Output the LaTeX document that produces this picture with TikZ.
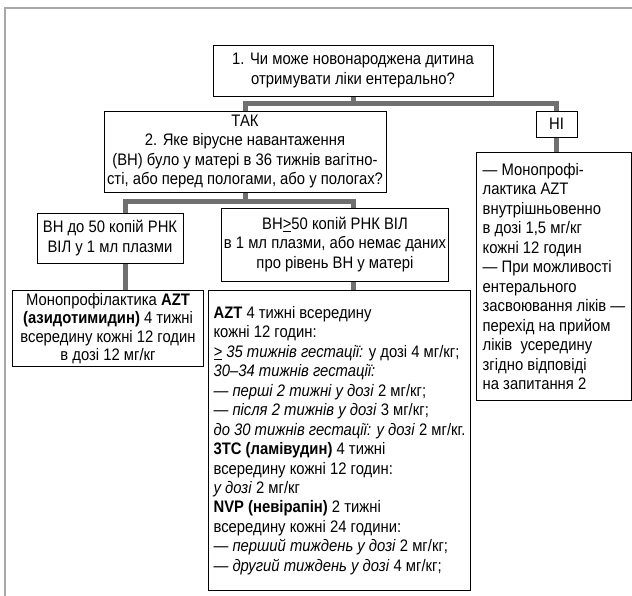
\documentclass[tikz,border=0pt]{standalone}
\usepackage{fontspec}
\setmainfont{Liberation Sans}[FakeStretch=0.89]
\definecolor{linkgray}{HTML}{707070}
\definecolor{framegray}{HTML}{A8A8A8}

\begin{document}
\begin{tikzpicture}[x=0.75pt,y=-0.75pt,
    box/.style={draw,line width=0.75pt,fill=white,inner sep=2pt,
      font=\fontsize{12.5}{14.6}\selectfont},
    link/.style={draw=linkgray,line width=3.75pt}]
      \useasboundingbox (0,0) rectangle (632,596);
      \draw[framegray,line width=1.5pt] (632,8) -- (5,8) -- (5,596);

      \path
      (353,70.5) node[box,minimum width=210pt,minimum height=38.25pt,align=center](q1)
        {1. Чи може новонароджена дитина\\отримувати ліки ентерально?}
      (245,151.5) node[box,minimum width=211.5pt,minimum height=60.75pt,align=center](tak)
        {ТАК\\2. Яке вірусне навантаження\\(ВН) було у матері в 36 тижнів вагітно-\\сті, або перед пологами, або у пологах?}
      (556.5,124) node[box,minimum width=30.75pt,minimum height=19.5pt](ni) {НІ}
      (476,152) node[box,anchor=north west,minimum width=116.25pt,minimum height=186pt,align=left](noenter)
        {— Монопрофі-\\лактика AZT\\внутрішньовенно\\в дозі 1,5 мг/кг\\кожні 12 годин\\— При можливості\\ентерального\\засвоювання ліків —\\перехід на прийом\\ліків\ \ усередину\\згідно відповіді\\на запитання 2}
      ;
      \path
      (110,238) node[box,minimum width=109.5pt,minimum height=37.5pt,align=center](vnlow)
        {ВН до 50 копій РНК\\ВІЛ у 1 мл плазми}
      (335,244.5) node[box,minimum width=168pt,minimum height=54.75pt,align=center](vnhigh)
        {ВН\underline{>}50 копій РНК ВІЛ\\в 1 мл плазми, або немає даних\\про рівень ВН у матері}
      (12,290) node[box,anchor=north west,minimum width=143.25pt,minimum height=56pt,align=center,
        font=\fontsize{12.5}{13.8}\selectfont](mono)
        {Монопрофілактика \textbf{AZT}\\\textbf{(азидотимидин)} 4 тижні\\всередину кожні 12 годин\\в дозі 12 мг/кг}
      (208,290) node[box,anchor=north west,minimum width=196.5pt,minimum height=225pt,align=left](azt)
        {\textbf{AZT} 4 тижні всередину\\
         кожні 12 годин:\\
         \textit{\underline{>} 35 тижнів гестації:} у дозі 4 мг/кг;\\
         \textit{30–34 тижнів гестації:}\\
         \textit{— перші 2 тижні у дозі} 2 мг/кг;\\
         \textit{— після 2 тижнів у дозі} 3 мг/кг;\\
         \textit{до 30 тижнів гестації: у дозі} 2 мг/кг.\\
         \textbf{3TC (ламівудин)} 4 тижні\\
         всередину кожні 12 годин:\\
         \textit{у дозі} 2 мг/кг\\
         \textbf{NVP (невірапін)} 2 тижні\\
         всередину кожні 24 години:\\
         \textit{— перший тиждень у дозі} 2 мг/кг;\\
         \textit{— другий тиждень у дозі} 4 мг/кг;}
      ;
      \path
      (353,103) coordinate(j1)
      (125,201) coordinate(j2l)
      (353,201) coordinate(j2r)
      ;

      \draw[link] (q1.south) -- (j1);
      \draw[link] (tak.north) |- (j1) -| (ni.north);
      \draw[link] (ni.south) -- (noenter.north -| ni.south);
      \draw[link] (tak.south) -- (tak.south |- j2l);
      \draw[link] (vnlow.north -| j2l) |- (j2r) -- (vnhigh.north -| j2r);
      \draw[link] (vnlow.south -| j2l) -- (mono.north -| j2l);
      \draw[link] (vnhigh.south -| j2r) -- (azt.north -| j2r);
    \end{tikzpicture}
\end{document}
